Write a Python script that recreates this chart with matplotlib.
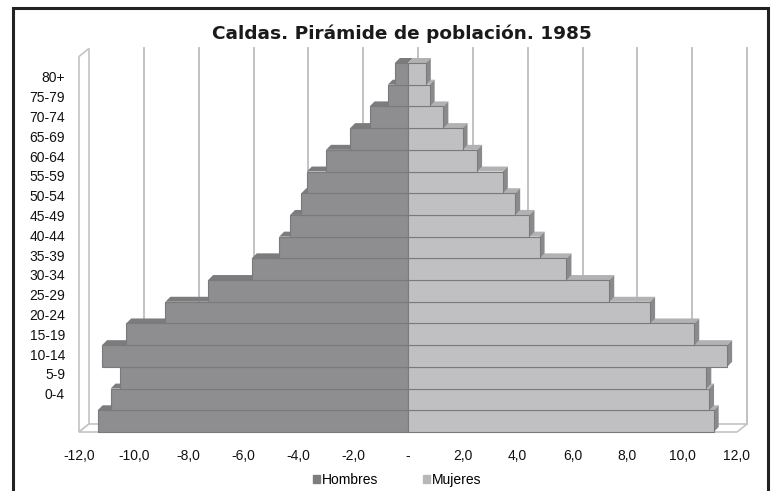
import matplotlib
matplotlib.use("Agg")
import matplotlib.pyplot as plt
from matplotlib.patches import Polygon, Rectangle
from matplotlib.lines import Line2D
import numpy as np

plt.rcParams['font.family'] = ['Liberation Sans', 'DejaVu Sans']

# ---- data (top to bottom) ----
age_groups = ["80+", "75-79", "70-74", "65-69", "60-64", "55-59", "50-54", "45-49",
              "40-44", "35-39", "30-34", "25-29", "20-24", "15-19", "10-14", "5-9", "0-4"]
hombres = [0.48, 0.74, 1.40, 2.11, 2.99, 3.69, 3.89, 4.30, 4.70, 5.70, 7.29, 8.85,
           10.28, 11.16, 10.52, 10.85, 11.32]
mujeres = [0.65, 0.79, 1.29, 1.99, 2.52, 3.46, 3.91, 4.43, 4.80, 5.78, 7.34, 8.83,
           10.44, 11.64, 10.88, 10.98, 11.15]
x_ticks = [-12, -10, -8, -6, -4, -2, 0, 2, 4, 6, 8, 10, 12]
x_ticklabels = ["-12,0", "-10,0", "-8,0", "-6,0", "-4,0", "-2,0", "-", "2,0", "4,0",
                "6,0", "8,0", "10,0", "12,0"]
title = "Caldas. Pirámide de población. 1985"

W, H = 771, 491
fig = plt.figure(figsize=(W / 100, H / 100), dpi=100)
fig.patch.set_facecolor("white")

# outer frame
fig.add_artist(Rectangle((13 / W, -0.05), (768 - 13) / W, (H - 8) / H + 0.05,
                         transform=fig.transFigure, fill=False, edgecolor="#222222",
                         linewidth=2.2))

left_px, right_px, top_px, bot_px = 79, 737, 63, 432
ax = fig.add_axes([left_px / W, 1 - bot_px / H, (right_px - left_px) / W, (bot_px - top_px) / H])
n = len(age_groups)
ypos = np.arange(n)
ax.set_xlim(-12, 12)
ax.set_ylim(n - 0.5, -0.5)
for s in ax.spines.values():
    s.set_visible(False)
ax.set_facecolor("none")

# pixels -> data units
pxx = 24 / (right_px - left_px)
pxy = n / (bot_px - top_px)

# wall / floor / gridlines (3D depth offset)
wdx, wdy = 10 * pxx, 8 * pxy
wall_c = "#c4c4c6"
ytop = -0.5 - 0.3  # slightly above bars
for xv in x_ticks[1:]:
    ax.add_line(Line2D([xv + wdx, xv + wdx], [n - 0.5 - wdy, ytop - wdy], color="#bdbdbf",
                       linewidth=1.3, clip_on=False, zorder=0))
# left wall
ax.add_patch(Polygon([[-12, n - 0.5], [-12, ytop], [-12 + wdx, ytop - wdy],
                      [-12 + wdx, n - 0.5 - wdy]], closed=True, facecolor="white",
                     edgecolor=wall_c, linewidth=1.2, clip_on=False, zorder=0.5))
# floor
ax.add_patch(Polygon([[-12, n - 0.5], [12, n - 0.5], [12 + wdx, n - 0.5 - wdy],
                      [-12 + wdx, n - 0.5 - wdy]], closed=True, facecolor="white",
                     edgecolor=wall_c, linewidth=1.2, clip_on=False, zorder=0.5))
for xv in x_ticks[1:-1]:
    ax.add_line(Line2D([xv, xv + wdx * 0.5], [n - 0.5, n - 0.5 - wdy * 0.5], color=wall_c,
                       linewidth=1.0, clip_on=False, zorder=0.6))

# bars with 3D faces
bdx, bdy = 5 * pxx, 5 * pxy
m_front, m_top = "#8e8e90", "#7c7c7e"
f_front, f_top, f_side = "#c0c0c2", "#b2b2b4", "#8a8a8c"
edge = "#7a7a7c"
z = 1
for i in range(n - 1, -1, -1):
    y0, y1 = ypos[i] + 0.5, ypos[i] - 0.5  # bottom, top (inverted axis)
    hm, mw = -hombres[i], mujeres[i]
    ax.add_patch(Polygon([[hm, y1], [0, y1], [bdx, y1 - bdy], [hm + bdx, y1 - bdy]],
                         facecolor=m_top, edgecolor="none", zorder=z, clip_on=False))
    ax.add_patch(Polygon([[0, y1], [mw, y1], [mw + bdx, y1 - bdy], [bdx, y1 - bdy]],
                         facecolor=f_top, edgecolor="none", zorder=z, clip_on=False))
    ax.add_patch(Polygon([[mw, y0], [mw, y1], [mw + bdx, y1 - bdy], [mw + bdx, y0 - bdy]],
                         facecolor=f_side, edgecolor="none", zorder=z, clip_on=False))
    z += 0.01
    ax.barh(ypos[i], hm, height=1.0, left=0, color=m_front, edgecolor=edge, linewidth=0.8,
            zorder=z, clip_on=False)
    ax.barh(ypos[i], mw, height=1.0, left=0, color=f_front, edgecolor=edge, linewidth=0.8,
            zorder=z, clip_on=False)
    z += 0.01

# ticks
ax.set_xticks(x_ticks)
ax.set_xticklabels(x_ticklabels, fontsize=10, color="#111111")
ax.tick_params(axis="x", length=0, pad=12)
lab_pos = 0.14 + np.arange(n) * 0.912
ax.set_yticks(lab_pos)
ax.set_yticklabels(age_groups, fontsize=10, color="#111111")
ax.tick_params(axis="y", length=0, pad=10)

fig.text(402 / W, 1 - 34 / H, title, ha="center", va="center", fontsize=13.3,
         fontweight="bold", family=["DejaVu Sans"], color="#1a1a1a")

# legend
handles = [Rectangle((0, 0), 1, 1, color="#7e7e80"), Rectangle((0, 0), 1, 1, color="#b8b8ba")]
fig.legend(handles, ["Hombres", "Mujeres"], loc="center", bbox_to_anchor=(397 / W, 1 - 480 / H),
           ncol=2, frameon=False, fontsize=10, handlelength=0.55, handleheight=0.55,
           handletextpad=0.1, columnspacing=3.2)

fig.savefig("out.png", dpi=100)
